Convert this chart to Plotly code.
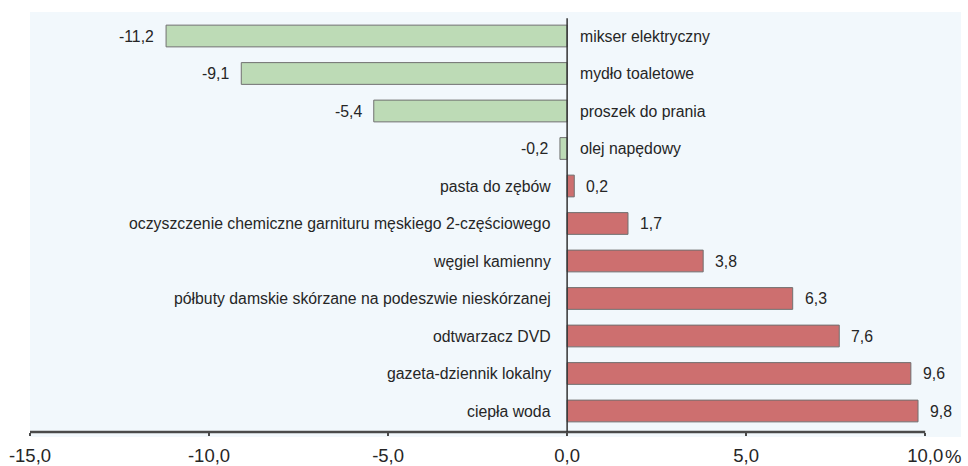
import plotly.graph_objects as go

categories = [
    "mikser elektryczny",
    "mydło toaletowe",
    "proszek do prania",
    "olej napędowy",
    "pasta do zębów",
    "oczyszczenie chemiczne garnituru męskiego 2-częściowego",
    "węgiel kamienny",
    "półbuty damskie skórzane na podeszwie nieskórzanej",
    "odtwarzacz DVD",
    "gazeta-dziennik lokalny",
    "ciepła woda",
]
values = [-11.2, -9.1, -5.4, -0.2, 0.2, 1.7, 3.8, 6.3, 7.6, 9.6, 9.8]
tick_vals = [-15, -10, -5, 0, 5, 10]
tick_text = ["-15,0", "-10,0", "-5,0", "0,0", "5,0", "10,0"]

GREEN = "#bddbb6"
RED = "#cd6f6f"
BG = "#f2f8fc"
TXT = "#262626"
FONT = "Liberation Sans, Arial, sans-serif"

colors = [GREEN if v < 0 else RED for v in values]

fig = go.Figure()
fig.add_trace(go.Bar(
    x=values, y=categories, orientation="h",
    marker=dict(color=colors, line=dict(color="#707070", width=1)),
    width=0.58, hoverinfo="skip", showlegend=False,
))

annotations = []
for c, v in zip(categories, values):
    lab = f"{v:.1f}".replace(".", ",")
    neg = v < 0
    annotations.append(dict(
        x=v, y=c, xref="x", yref="y", text=lab, showarrow=False,
        xanchor="right" if neg else "left", xshift=-10 if neg else 10,
        font=dict(family=FONT, size=15.8, color=TXT),
    ))
    annotations.append(dict(
        x=0, y=c, xref="x", yref="y", text=c, showarrow=False,
        xanchor="left" if neg else "right", xshift=11 if neg else -14,
        font=dict(family=FONT, size=15.8, color=TXT),
    ))
annotations.append(dict(
    x=tick_vals[-1], y=0, xref="x", yref="paper", text="%", showarrow=False,
    xanchor="left", yanchor="middle", xshift=18, yshift=-24,
    font=dict(family=FONT, size=18.5, color=TXT),
))

fig.update_layout(
    width=968, height=466,
    margin=dict(l=30, r=7, t=12, b=34),
    paper_bgcolor="white", plot_bgcolor=BG,
    bargap=0.4,
    annotations=annotations,
    shapes=[
        dict(type="rect", xref="paper", yref="paper", x0=0, x1=1, y0=-0.012, y1=0,
             fillcolor=BG, line=dict(width=0), layer="below"),
        dict(type="line", xref="x", yref="paper", x0=tick_vals[0], x1=tick_vals[-1], y0=0, y1=0,
             line=dict(color="#4a4a4a", width=2.5)),
        dict(type="line", xref="x", yref="paper", x0=0, x1=0, y0=0, y1=0.985,
             line=dict(color="#333333", width=1.5)),
    ],
)
fig.update_xaxes(
    range=[-15, 11], tickvals=tick_vals, ticktext=tick_text, automargin=False,
    showgrid=False, zeroline=False, showline=False,
    ticks="outside", ticklen=3, tickwidth=2, tickcolor="#4a4a4a",
    ticklabelstandoff=4,
    tickfont=dict(family=FONT, size=18.5, color=TXT),
)
fig.update_yaxes(
    type="category", categoryorder="array", categoryarray=categories, automargin=False,
    range=[10.56, -0.64], showticklabels=False, showgrid=False, zeroline=False, showline=False,
)

fig.write_html(
    "out.html",
    config={"displayModeBar": False},
    post_script="document.body.style.margin='0px';document.body.style.overflow='hidden';",
)
